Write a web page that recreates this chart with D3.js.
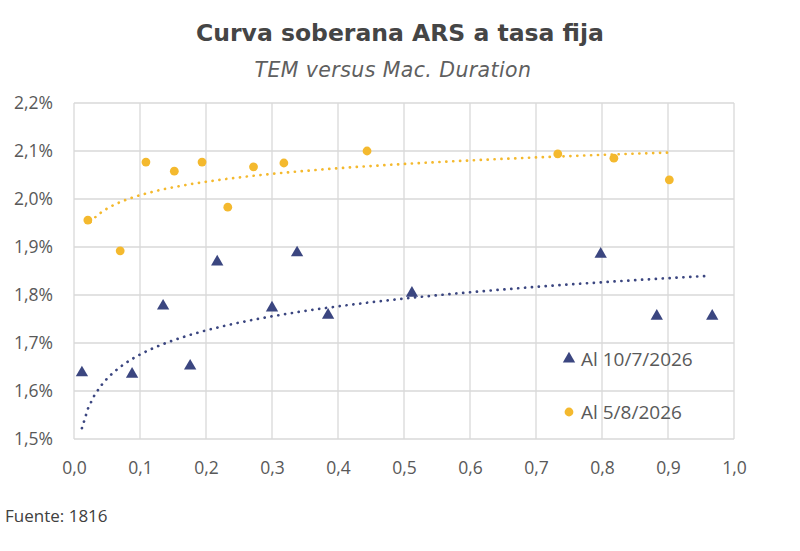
<!DOCTYPE html>
<html>
<head>
<meta charset="utf-8">
<script src="https://cdn.jsdelivr.net/npm/d3@7"></script>
<style>
  body { margin: 0; background: #fff; }
  svg { display: block; }
</style>
</head>
<body>
<svg class="chart" width="800" height="551"></svg>
<script>
// Serie "Al 10/7/2026" (triangulos azules): duration / TEM %
var julDur = [0.012, 0.088, 0.135, 0.176, 0.217, 0.300, 0.338, 0.385, 0.512, 0.798, 0.883, 0.967]
var julTem = [1.638, 1.635, 1.777, 1.652, 1.869, 1.773, 1.888, 1.758, 1.804, 1.885, 1.756, 1.756]
// tendencia log: TEM = a + b * ln(dur), y su rango de duration
var julTrendCoef = [1.8427, 0.0724]
var julTrendRange = [0.012, 0.964]

// Serie "Al 5/8/2026" (puntos amarillos)
var agoDur = [0.021, 0.070, 0.109, 0.152, 0.194, 0.233, 0.272, 0.318, 0.444, 0.733, 0.818, 0.902]
var agoTem = [1.956, 1.892, 2.077, 2.058, 2.077, 1.983, 2.067, 2.075, 2.100, 2.094, 2.085, 2.040]
var agoTrendCoef = [2.101, 0.0404]
var agoTrendRange = [0.025, 0.900]

var xTicks = [0, 0.1, 0.2, 0.3, 0.4, 0.5, 0.6, 0.7, 0.8, 0.9, 1.0]
var yTicks = [1.5, 1.6, 1.7, 1.8, 1.9, 2.0, 2.1, 2.2]

var navy = "#3b4680"
var gold = "#f4b92e"

var margin = { left: 74, right: 66, top: 103, bottom: 112 }
var width = 800, height = 551

var x = d3.scaleLinear().domain([0, 1]).range([margin.left, width - margin.right])
var y = d3.scaleLinear().domain([1.5, 2.2]).range([height - margin.bottom, margin.top])

var comma = d => d3.format(".1f")(d).replace(".", ",")

var chart = d3.select(".chart")

// titulos
chart.append("text")
    .attr("x", 400).attr("y", 41)
    .attr("text-anchor", "middle")
    .style("font", "bold 23.5px 'DejaVu Sans', sans-serif")
    .attr("fill", "#454545")
    .text("Curva soberana ARS a tasa fija")

chart.append("text")
    .attr("x", 393).attr("y", 77)
    .attr("text-anchor", "middle")
    .style("font", "oblique 20.5px 'DejaVu Sans', sans-serif")
    .style("letter-spacing", "0.4px")
    .attr("fill", "#5f5f5f")
    .text("TEM versus Mac. Duration")

// grilla
var grid = chart.append("g").attr("stroke", "#d9d9d9").attr("stroke-width", 1.3)
grid.selectAll(".gx").data(xTicks).enter().append("line")
    .attr("x1", d => x(d)).attr("x2", d => x(d))
    .attr("y1", y(1.5)).attr("y2", y(2.2))
grid.selectAll(".gy").data(yTicks).enter().append("line")
    .attr("x1", x(0)).attr("x2", x(1))
    .attr("y1", d => y(d)).attr("y2", d => y(d))

// ejes (solo etiquetas)
var xAxis = chart.append("g")
    .attr("transform", `translate(0,${y(1.5)})`)
    .call(d3.axisBottom(x).tickValues(xTicks).tickFormat(comma).tickSize(0).tickPadding(23))
var yAxis = chart.append("g")
    .attr("transform", `translate(${x(0)},0)`)
    .call(d3.axisLeft(y).tickValues(yTicks).tickFormat(d => comma(d) + "%").tickSize(0).tickPadding(21))
;[xAxis, yAxis].forEach(a => {
    a.select(".domain").remove()
    a.selectAll("text")
        .style("font", "17.5px 'Open Sans', sans-serif")
        .attr("fill", "#595959")
})

// curvas de tendencia
function trend(coef, range) {
    return d3.range(0, 101).map(i => {
        var xv = range[0] + (range[1] - range[0]) * i / 100
        return [xv, coef[0] + coef[1] * Math.log(xv)]
    })
}

var line = d3.line().x(d => x(d[0])).y(d => y(d[1]))

chart.append("path")
    .datum(trend(julTrendCoef, julTrendRange))
    .attr("d", line)
    .attr("fill", "none")
    .attr("stroke", navy)
    .attr("stroke-width", 2.7)
    .attr("stroke-linecap", "round")
    .attr("stroke-dasharray", "0.1,6.8")

chart.append("path")
    .datum(trend(agoTrendCoef, agoTrendRange))
    .attr("d", line)
    .attr("fill", "none")
    .attr("stroke", gold)
    .attr("stroke-width", 2.7)
    .attr("stroke-linecap", "round")
    .attr("stroke-dasharray", "0.1,6.8")

// puntos
var tri = d3.symbol().type(d3.symbolTriangle).size(66)

chart.append("g").selectAll("path")
    .data(julDur.map((d, i) => [d, julTem[i]]))
    .enter().append("path")
    .attr("d", tri)
    .attr("transform", d => `translate(${x(d[0])},${y(d[1])})`)
    .attr("fill", navy)

chart.append("g").selectAll("circle")
    .data(agoDur.map((d, i) => [d, agoTem[i]]))
    .enter().append("circle")
    .attr("cx", d => x(d[0])).attr("cy", d => y(d[1]))
    .attr("r", 4.4)
    .attr("fill", gold)

// leyenda
var legend = chart.append("g")
legend.append("path").attr("d", tri).attr("transform", "translate(569,359)").attr("fill", navy)
legend.append("text").attr("x", 581).attr("y", 366)
    .style("font", "19px 'Open Sans', sans-serif").attr("fill", "#595959")
    .text("Al 10/7/2026")
legend.append("circle").attr("cx", 569).attr("cy", 412).attr("r", 4.4).attr("fill", gold)
legend.append("text").attr("x", 581).attr("y", 419)
    .style("font", "19px 'Open Sans', sans-serif").attr("fill", "#595959")
    .text("Al 5/8/2026")

// fuente
chart.append("text")
    .attr("x", 5).attr("y", 522)
    .style("font", "17px 'Open Sans', sans-serif")
    .attr("fill", "#404040")
    .text("Fuente: 1816")
</script>
</body>
</html>
